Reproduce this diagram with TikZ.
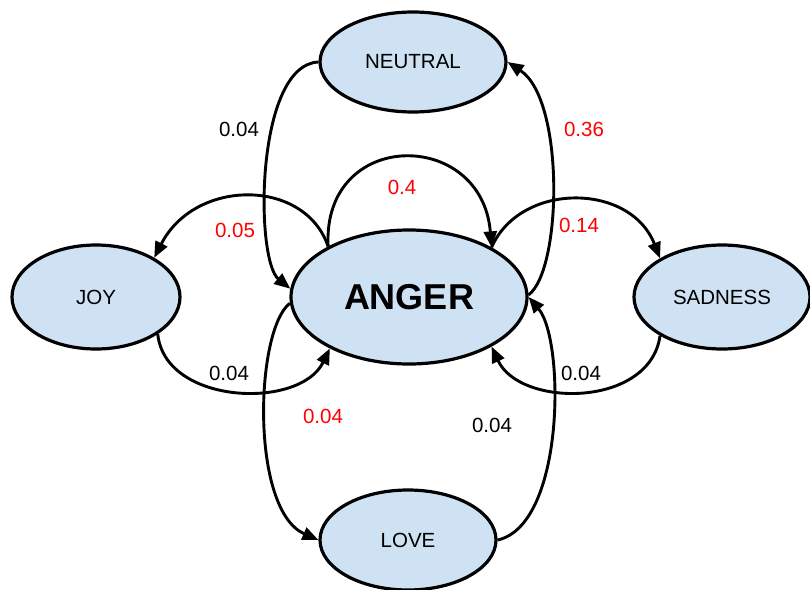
\documentclass[tikz,border=0pt]{standalone}
\usepackage{fontspec}
\setmainfont{Liberation Sans}
\usetikzlibrary{shapes.geometric,arrows.meta}
\definecolor{stateblue}{HTML}{CFE2F3}
\definecolor{labred}{HTML}{FF0000}
\tikzset{
  state/.style={ellipse, draw=black, line width=3.2pt, fill=stateblue, inner sep=0pt,
    font=\fontsize{20.5}{24}\selectfont},
  edge/.style={line width=2.9pt, -{Triangle[length=16pt,width=13pt]}},
  lab/.style={font=\fontsize{20.5}{24}\selectfont, inner sep=0pt},
  redlab/.style={lab, text=labred}
}
\begin{document}
\begin{tikzpicture}[x=1pt,y=-1pt]
\useasboundingbox (0,0) rectangle (810,589);
\node[state, minimum width=186pt, minimum height=100pt] (neutral) at (413,62) {NEUTRAL};
\node[state, minimum width=236pt, minimum height=134pt, font=\fontsize{36}{40}\selectfont\bfseries] (anger) at (409,297) {ANGER};
\node[state, minimum width=168pt, minimum height=104pt] (joy) at (96,297) {JOY};
\node[state, minimum width=176pt, minimum height=104pt] (sadness) at (722,297) {SADNESS};
\node[state, minimum width=176pt, minimum height=100pt] (love) at (408,540) {LOVE};

% NEUTRAL -> ANGER
\draw[edge] (neutral.west) .. controls (255,65) and (255,260) .. (anger.176);
% ANGER -> NEUTRAL
\draw[edge] (anger.1) .. controls (562,270) and (565,100) .. (neutral.east);
% self loop
\draw[edge] (anger.148) .. controls (322,128) and (482,128) .. (anger.31);
% ANGER -> JOY
\draw[edge] (anger.148) .. controls (305,178) and (195,178) .. (joy.34);
% JOY -> ANGER
\draw[edge] (joy.-31) .. controls (165,405) and (300,410) .. (anger.213);
% ANGER -> SADNESS
\draw[edge] (anger.31) .. controls (520,182) and (630,182) .. (sadness.148);
% SADNESS -> ANGER
\draw[edge] (sadness.-148) .. controls (650,408) and (520,408) .. (anger.-31);
% ANGER -> LOVE
\draw[edge] (anger.183) .. controls (255,330) and (250,510) .. (love.west);
% LOVE -> ANGER
\draw[edge] (love.east) .. controls (565,525) and (565,340) .. (anger.0);

\node[lab] (l1) at (239,129) {0.04};
\node[redlab] (l2) at (584,129) {0.36};
\node[redlab] (l3) at (402,187) {0.4};
\node[redlab] (l4) at (235,230) {0.05};
\node[redlab] (l5) at (579,225) {0.14};
\node[lab] (l6) at (229,373) {0.04};
\node[lab] (l7) at (581,373) {0.04};
\node[redlab] (l8) at (323,416) {0.04};
\node[lab] (l9) at (492,425) {0.04};
\end{tikzpicture}
\end{document}
